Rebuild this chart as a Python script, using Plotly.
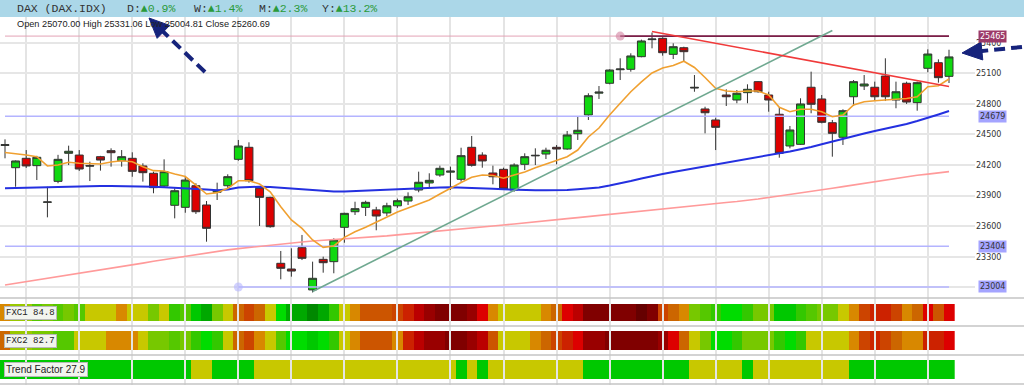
import math
import plotly.graph_objects as go

W, H = 1024, 385

# ---------------- data ----------------
idx = list(range(90))
opens = [24392, 24174, 24266, 24194, 23834, 24040, 24315, 24298, 24195, 24282,
         24341, 24242, 24266, 24191, 24119, 23994, 23805, 23785, 23997, 23808,
         23933, 23997, 24256, 24374, 23972, 23883, 23236, 23180, 23389, 22975,
         23275, 23252, 23589, 23742, 23785, 23760, 23730, 23800, 23847, 23955,
         24024, 24102, 24130, 24060, 24374, 24298, 24122, 24158, 23955, 24207,
         24290, 24308, 24374, 24357, 24507, 24691, 24905, 25002, 25135, 25139,
         25263, 25430, 25443, 25286, 25351, 24955, 24750, 24642, 24887, 24838,
         24910, 25018, 24887, 24698, 24387, 24403, 24963, 24848, 24615, 24472,
         24870, 24975, 24963, 25073, 24838, 25002, 24812, 25149, 25204, 25070.00]
highs = [24452, 24245, 24347, 24290, 23987, 24300, 24390, 24347, 24233, 24290,
         24364, 24347, 24325, 24217, 24135, 24256, 23972, 24093, 24021, 23847,
         24027, 24109, 24446, 24423, 23978, 23889, 23357, 23383, 23514, 23252,
         23301, 23481, 23732, 23840, 23850, 23790, 23830, 23870, 23932, 24135,
         24119, 24194, 24184, 24370, 24485, 24325, 24194, 24174, 24217, 24315,
         24364, 24370, 24396, 24534, 24674, 24904, 24975, 25139, 25247, 25296,
         25430, 25500, 25453, 25394, 25361, 25083, 24772, 24664, 24943, 24936,
         24992, 25024, 24919, 24766, 24583, 24855, 25116, 24887, 24642, 24747,
         25034, 25083, 25018, 25247, 25018, 25018, 25018, 25335, 25237, 25331.06]
lows = [24266, 23987, 24171, 24053, 23687, 24021, 24200, 24142, 24043, 24145,
        24184, 24184, 24085, 24037, 23923, 23982, 23677, 23732, 23720, 23448,
        23857, 23972, 24242, 24027, 23602, 23585, 23079, 23105, 23268, 22950,
        23144, 23138, 23438, 23710, 23700, 23560, 23700, 23780, 23808, 23933,
        23982, 24085, 23955, 24037, 24184, 24174, 24011, 23955, 23938, 24151,
        24200, 24259, 24207, 24350, 24446, 24642, 24848, 24992, 25034, 25116,
        25257, 25345, 25273, 25240, 25214, 24919, 24511, 24347, 24779, 24806,
        24806, 24910, 24723, 24272, 24364, 24397, 24708, 24609, 24282, 24397,
        24779, 24936, 24838, 24828, 24757, 24799, 24733, 25110, 25008, 25004.81]
closes = [24400, 24240, 24191, 24276, 23838, 24256, 24335, 24161, 24190, 24249,
          24321, 24282, 24138, 24125, 23978, 24135, 23948, 24053, 23742, 23579,
          23952, 24086, 24387, 24046, 23883, 23595, 23187, 23160, 23285, 23089,
          23242, 23465, 23726, 23772, 23834, 23700, 23800, 23850, 23889, 24031,
          24050, 24168, 24140, 24292, 24197, 24240, 24085, 23965, 24200, 24282,
          24295, 24345, 24357, 24495, 24541, 24880, 24915, 25132, 25142, 25270,
          25417, 25436, 25302, 25361, 25312, 24962, 24713, 24570, 24870, 24904,
          24943, 24919, 24838, 24315, 24544, 24799, 24796, 24619, 24511, 24733,
          25018, 24995, 24870, 24870, 24919, 24818, 25008, 25289, 25057, 25260.69]

ma_fast = [24323, 24313, 24298, 24282, 24191, 24200, 24227, 24217, 24210, 24210,
           24230, 24242, 24233, 24184, 24145, 24142, 24112, 24087, 24004, 23916,
           23929, 23972, 24046, 24046, 24014, 23938, 23791, 23661, 23579, 23465,
           23393, 23406, 23491, 23546, 23589, 23641, 23690, 23739, 23778, 23818,
           23857, 23916, 23975, 24029, 24080, 24102, 24097, 24070, 24102, 24132,
           24174, 24210, 24242, 24282, 24347, 24475, 24563, 24691, 24806, 24919,
           25015, 25103, 25152, 25176, 25218, 25157, 25059, 24953, 24926, 24919,
           24926, 24926, 24887, 24766, 24723, 24747, 24747, 24723, 24674, 24691,
           24789, 24821, 24831, 24838, 24845, 24853, 24870, 24968, 24978, 25044]
ma_mid = [23972, 23975, 23980, 23983, 23984, 23986, 23989, 23992, 23994, 23994,
          23994, 23994, 23994, 23991, 23987, 23983, 23979, 23975, 23970, 23960,
          23952, 23960, 23980, 23986, 23987, 23984, 23977, 23968, 23960, 23952,
          23945, 23940, 23940, 23945, 23950, 23955, 23960, 23965, 23967, 23970,
          23975, 23980, 23982, 23980, 23975, 23972, 23967, 23962, 23957, 23955,
          23953, 23952, 23952, 23955, 23962, 23970, 23980, 23999, 24019, 24043,
          24068, 24092, 24112, 24132, 24151, 24166, 24186, 24205, 24225, 24244,
          24264, 24281, 24298, 24315, 24333, 24352, 24377, 24403, 24431, 24460,
          24485, 24509, 24534, 24556, 24580, 24603, 24632, 24661, 24696, 24730]
ma_slow = [23023, 23039, 23055, 23070, 23086, 23102, 23118, 23135, 23152, 23168,
           23185, 23203, 23220, 23238, 23256, 23273, 23290, 23307, 23323, 23340,
           23357, 23368, 23380, 23392, 23404, 23416, 23425, 23435, 23445, 23455,
           23462, 23468, 23474, 23480, 23486, 23496, 23505, 23515, 23524, 23533,
           23543, 23553, 23563, 23572, 23582, 23592, 23602, 23612, 23622, 23631,
           23641, 23652, 23663, 23674, 23684, 23695, 23706, 23717, 23727, 23738,
           23749, 23760, 23771, 23781, 23792, 23803, 23813, 23823, 23833, 23842,
           23852, 23867, 23882, 23896, 23911, 23926, 23941, 23957, 23973, 23988,
           24004, 24021, 24037, 24054, 24071, 24087, 24099, 24111, 24123, 24135]

# horizontal levels: value, first candle
level_vals = [25465, 24679, 23404, 23004]
level_from = [0, 0, 0, 22]
level_anchor_25465 = 58
# trend lines: (candle, price) pairs
up_trend_x = [29, 78]
up_trend_y = [22960, 25520]
down_trend_x = [61, 89]
down_trend_y = [25510, 24970]

# indicator bands (colour level index per candle)
palette = ["#008800", "#00a800", "#00c800", "#00dc00", "#33c800", "#55c800",
           "#77c800", "#99c800", "#c8c800", "#d88800", "#cc6600", "#cc5500",
           "#cc4400", "#cc2200", "#dd0000", "#bb0000", "#990000", "#800000",
           "#660000"]
fxc1 = [9, 7, 7, 5, 6, 5, 6, 5, 8, 8, 8, 9, 8, 8, 6, 8, 4, 5, 2, 1,
        6, 8, 10, 12, 10, 8, 3, 1, 1, 0, 1, 4, 8, 9, 11, 11, 11, 12, 13, 15,
        16, 17, 17, 17, 16, 14, 9, 8, 8, 8, 8, 9, 10, 14, 15, 17, 17, 17, 17, 17,
        18, 17, 12, 10, 9, 6, 5, 4, 3, 3, 4, 6, 6, 2, 2, 4, 5, 6, 6, 8,
        9, 12, 13, 13, 12, 9, 10, 14, 11, 14]
fxc2 = [10, 7, 7, 6, 6, 5, 5, 8, 8, 8, 9, 9, 9, 8, 6, 6, 5, 6, 4, 3,
        4, 8, 10, 12, 9, 8, 5, 3, 3, 2, 3, 4, 8, 9, 11, 11, 11, 9, 13, 15,
        16, 16, 17, 17, 16, 15, 11, 8, 8, 8, 9, 10, 12, 13, 14, 16, 16, 17, 17, 17,
        17, 17, 16, 14, 10, 8, 6, 3, 3, 4, 6, 6, 6, 4, 3, 4, 8, 8, 8, 8,
        9, 12, 13, 12, 10, 9, 9, 13, 13, 14]
trend = [2] * 18 + [8] * 2 + [2] * 4 + [8] * 19 + [2, 8, 2] + [8] * 9 + \
        [2] * 10 + [8] * 5 + [2] + [8] * 9 + [2] * 10

yticks = [23000, 23300, 23600, 23900, 24200, 24500, 24800, 25100, 25400]

# ---------------- geometry helpers ----------------
def px(x):
    return x / W

def py(y):
    return 1 - y / H

X_RANGE = [-0.471, 91.45]
XDOM = [0, px(975)]
Y_RANGE = [25819 - 9.81 * 298, 25819 - 9.81 * 17]

fig = go.Figure()

# level lines
fig.add_trace(go.Scatter(x=[level_from[0], idx[-1]], y=[level_vals[0]] * 2, mode="lines",
                         line=dict(color="#e3a3b6", width=1), hoverinfo="skip"))
fig.add_trace(go.Scatter(x=[level_anchor_25465, idx[-1]], y=[level_vals[0]] * 2, mode="lines",
                         line=dict(color="#7a1f48", width=1.6), hoverinfo="skip"))
fig.add_trace(go.Scatter(x=[level_anchor_25465], y=[level_vals[0]], mode="markers",
                         marker=dict(color="rgba(210,130,160,0.6)", size=9), hoverinfo="skip"))
for v, s in zip(level_vals[1:], level_from[1:]):
    fig.add_trace(go.Scatter(x=[s, idx[-1]], y=[v, v], mode="lines",
                             line=dict(color="#b4b4ff", width=1.6), hoverinfo="skip"))
fig.add_trace(go.Scatter(x=[level_from[3]], y=[level_vals[3]], mode="markers",
                         marker=dict(color="rgba(180,180,255,0.6)", size=9), hoverinfo="skip"))

# moving averages
fig.add_trace(go.Scatter(x=idx, y=ma_slow, mode="lines", line=dict(color="#ff9a9a", width=1.6)))
fig.add_trace(go.Scatter(x=idx, y=ma_mid, mode="lines", line=dict(color="#2430e0", width=2)))
fig.add_trace(go.Scatter(x=idx, y=ma_fast, mode="lines", line=dict(color="#f0a030", width=1.6)))

# trend lines
fig.add_trace(go.Scatter(x=up_trend_x, y=up_trend_y, mode="lines",
                         line=dict(color="#6fa890", width=1.6), hoverinfo="skip"))
fig.add_trace(go.Scatter(x=down_trend_x, y=down_trend_y, mode="lines",
                         line=dict(color="#f03a3a", width=1.6), hoverinfo="skip"))

# candles
fig.add_trace(go.Candlestick(
    x=idx, open=opens, high=highs, low=lows, close=closes,
    increasing=dict(fillcolor="#10d810", line=dict(color="#333333", width=1)),
    decreasing=dict(fillcolor="#dd0000", line=dict(color="#333333", width=1)),
    whiskerwidth=0))

# bands
N = len(palette)
cs = []
for k, c in enumerate(palette):
    cs.append([k / N, c])
    cs.append([(k + 1) / N, c])
for name, arr in [("y2", fxc1), ("y3", fxc2), ("y4", trend)]:
    xa = "x" + name[1:]
    fig.add_trace(go.Heatmap(x=idx, y=[0], z=[arr], colorscale=cs, zmin=-0.5, zmax=N - 0.5,
                             showscale=False, xaxis=xa, yaxis=name, hoverinfo="skip"))
# grid underlay for band area
fig.add_trace(go.Scatter(x=[], y=[], xaxis="x5", yaxis="y5"))

grid_x = list(range(2, 90, 5))
common_x = dict(range=X_RANGE, domain=XDOM, showticklabels=False, tickvals=grid_x,
                showgrid=True, gridcolor="#e4e4e4", gridwidth=1.5, zeroline=False,
                showline=False, ticks="", fixedrange=True)

layout = dict(
    width=W, height=H, margin=dict(l=0, r=0, t=0, b=0),
    paper_bgcolor="white", plot_bgcolor="rgba(0,0,0,0)",
    showlegend=False, boxgap=0, boxgroupgap=0.25,
    xaxis=dict(common_x, anchor="y", rangeslider=dict(visible=False)),
    yaxis=dict(domain=[py(298), py(17)], range=Y_RANGE, side="right", anchor="x",
               tickvals=yticks, ticktext=[""] + [str(v) for v in yticks[1:]],
               showgrid=True, gridcolor="#e6e6e6", gridwidth=1.5, zeroline=False,
               ticks="", tickfont=dict(family="DejaVu Sans", size=8, color="#333")),
    xaxis2=dict(common_x, anchor="y2"),
    xaxis3=dict(common_x, anchor="y3"),
    xaxis4=dict(common_x, anchor="y4"),
    xaxis5=dict(common_x, anchor="y5"),
    yaxis2=dict(domain=[py(321), py(304)], range=[-0.5, 0.5], visible=False, anchor="x2"),
    yaxis3=dict(domain=[py(350), py(331)], range=[-0.5, 0.5], visible=False, anchor="x3"),
    yaxis4=dict(domain=[py(379), py(360)], range=[-0.5, 0.5], visible=False, anchor="x4"),
    yaxis5=dict(domain=[0, py(298)], range=[0, 1], visible=False, anchor="x5"),
)
fig.update_layout(**layout)

shapes = []
# header bar
shapes.append(dict(type="rect", xref="paper", yref="paper", x0=0, x1=1, y0=py(17), y1=1,
                   fillcolor="#abd7e8", line=dict(width=0), layer="below"))
# separators
for yy in [298, 326, 355, 384]:
    shapes.append(dict(type="line", xref="paper", yref="paper", x0=0, x1=1, y0=py(yy), y1=py(yy),
                       line=dict(color="#c4c4c4", width=1.5)))

# dashed arrows with heads
def arrow(tail, tip, hl=20, hw=9, col="#16237c"):
    dx, dy = tip[0] - tail[0], tip[1] - tail[1]
    L = math.hypot(dx, dy)
    ux, uy = dx / L, dy / L
    bx, by = tip[0] - hl * ux, tip[1] - hl * uy
    nx, ny = -uy, ux
    shapes.append(dict(type="line", xref="paper", yref="paper",
                       x0=px(tail[0]), y0=py(tail[1]), x1=px(bx + 2 * ux), y1=py(by + 2 * uy),
                       line=dict(color=col, width=4, dash="11px,6px")))
    c1 = (bx + hw * nx, by + hw * ny)
    c2 = (bx - hw * nx, by - hw * ny)
    path = "M {} {} L {} {} L {} {} Z".format(px(tip[0]), py(tip[1]), px(c1[0]), py(c1[1]),
                                              px(c2[0]), py(c2[1]))
    shapes.append(dict(type="path", xref="paper", yref="paper", path=path,
                       fillcolor=col, line=dict(color=col, width=1)))

arrow((205, 72), (149, 18))
arrow((1022, 47), (962, 53))
fig.update_layout(shapes=shapes)

ann = []
mono = "Liberation Mono"
green = "#2a9a3a"
ann.append(dict(text="DAX (DAX.IDX)", x=px(15), y=py(8.5), xref="paper", yref="paper",
                xanchor="left", yanchor="middle", showarrow=False,
                font=dict(family=mono, size=11.5, color="#333")))
for lab, val, xx in [("D:", "0.9%", 125), ("W:", "1.4%", 192), ("M:", "2.3%", 257), ("Y:", "13.2%", 320)]:
    ann.append(dict(text=lab + "<span style='color:%s'>▲%s</span>" % (green, val),
                    x=px(xx), y=py(8.5), xref="paper", yref="paper",
                    xanchor="left", yanchor="middle", showarrow=False,
                    font=dict(family=mono, size=11.5, color="#333")))
ann.append(dict(text="Open %.2f High %.2f Low %.2f Close %.2f" % (opens[-1], highs[-1], lows[-1], closes[-1]),
                x=px(15), y=py(24.5), xref="paper", yref="paper", xanchor="left", yanchor="middle",
                showarrow=False, font=dict(family="Liberation Sans", size=9.2, color="#222")))
# level label boxes
for v, bg, fc in [(25465, "#9c3a68", "white"), (24679, "#a4a4ff", "#333"),
                  (23404, "#a4a4ff", "#333"), (23004, "#a4a4ff", "#333")]:
    ann.append(dict(text=str(v), x=px(992), y=v, xref="paper", yref="y", xanchor="center",
                    yanchor="middle", showarrow=False, bgcolor=bg, borderpad=1,
                    font=dict(family="DejaVu Sans", size=8, color=fc)))
# band labels
for txt, yy, fam, sz in [("FXC1 84.8", 312.5, mono, 9), ("FXC2 82.7", 340.5, mono, 9),
                         ("Trend Factor 27.9", 369.5, "Liberation Sans", 10)]:
    ann.append(dict(text=txt, x=px(4), y=py(yy), xref="paper", yref="paper", xanchor="left",
                    yanchor="middle", showarrow=False, bgcolor="#f2f4ee", bordercolor="#b8b8b8",
                    borderwidth=1, borderpad=1, font=dict(family=fam, size=sz, color="#222")))
fig.update_layout(annotations=ann)

fig.write_html("out.html")
